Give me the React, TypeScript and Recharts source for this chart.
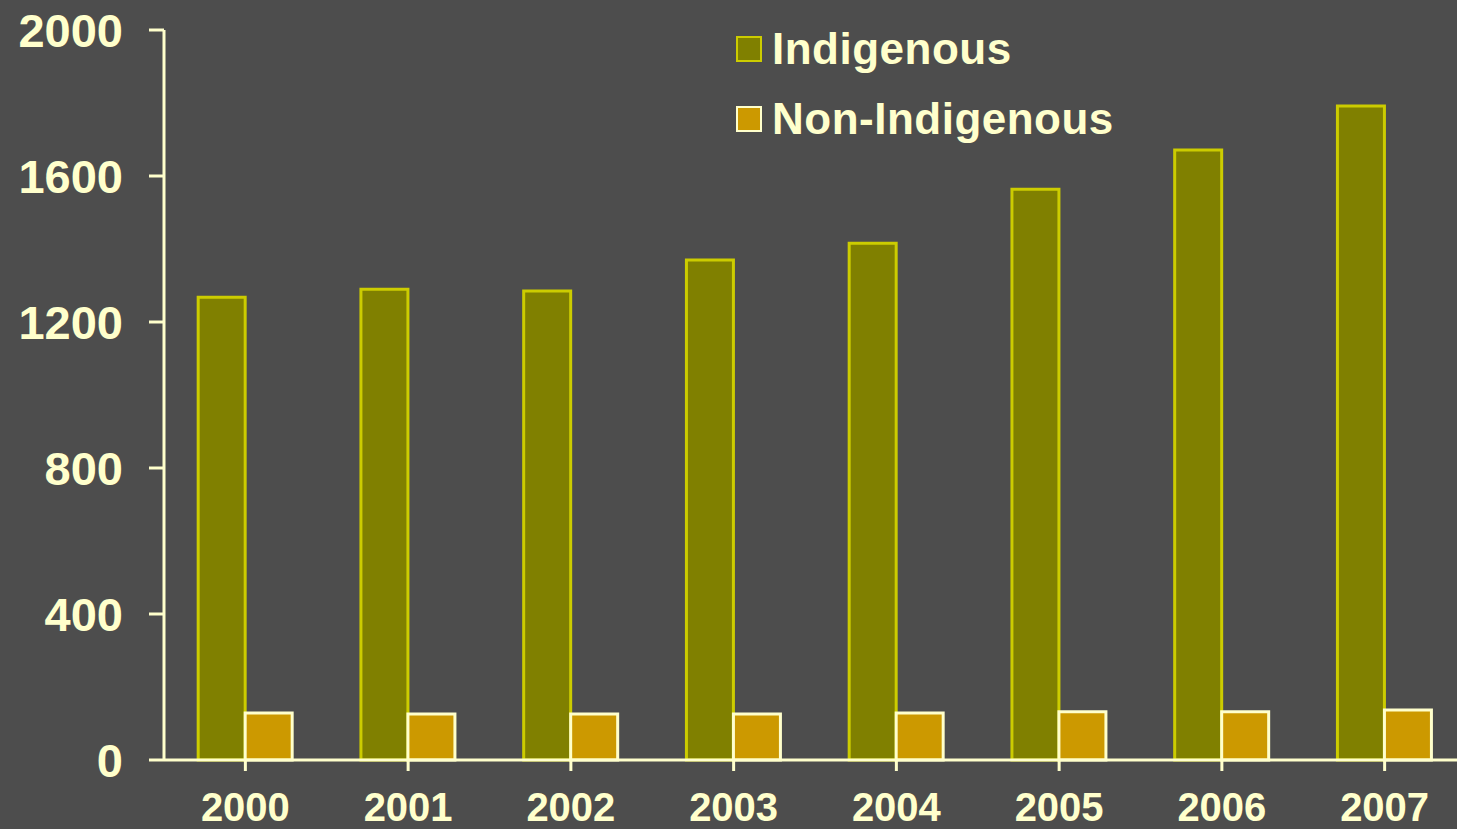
import React from 'react';
import { BarChart, Bar, XAxis, YAxis } from 'recharts';

const years = ['2000', '2001', '2002', '2003', '2004', '2005', '2006', '2007'];
const indigenous = [1268, 1290, 1285, 1370, 1416, 1564, 1671, 1792];
const nonIndigenous = [129, 126, 126, 126, 129, 132, 132, 137];
const yTicks = [0, 400, 800, 1200, 1600, 2000];

const data = years.map((year, i) => ({
  year,
  indigenous: indigenous[i],
  nonIndigenous: nonIndigenous[i],
}));

const cream = '#ffffcc';
const font = '"Liberation Sans", Arial, sans-serif';

const legendItems = [
  { label: 'Indigenous', fill: '#808000', stroke: '#cccc00' },
  { label: 'Non-Indigenous', fill: '#cc9900', stroke: cream },
];

// legend drawn as plain html so it doesn't eat plot space
const ChartLegend = () => (
  <div
    style={{
      position: 'absolute',
      left: 736,
      top: 14,
      fontFamily: font,
      fontWeight: 'bold',
      color: cream,
      fontSize: 44,
      letterSpacing: 0.5,
    }}
  >
    {legendItems.map((item) => (
      <div key={item.label} style={{ display: 'flex', alignItems: 'center', height: 70 }}>
        <div
          style={{
            width: 22,
            height: 22,
            background: item.fill,
            border: `2px solid ${item.stroke}`,
            marginRight: 10,
          }}
        />
        <span>{item.label}</span>
      </div>
    ))}
  </div>
);

export default function App() {
  return (
    <div
      style={{
        position: 'fixed',
        left: 0,
        top: 0,
        width: 1457,
        height: 829,
        overflow: 'hidden',
        background: '#4d4d4d',
      }}
    >
      <BarChart
        width={1481}
        height={829}
        data={data}
        margin={{ top: 30, right: 15, left: 14, bottom: 0 }}
        barCategoryGap="21%"
        barGap={0}
      >
        <XAxis
          dataKey="year"
          stroke={cream}
          strokeWidth={3}
          axisLine={{ stroke: cream, strokeWidth: 3 }}
          tickLine={{ stroke: cream, strokeWidth: 3 }}
          tickSize={11}
          tickMargin={22}
          height={69}
          tick={{ fill: cream, fontSize: 40, fontWeight: 'bold', fontFamily: font }}
          interval={0}
        />
        <YAxis
          domain={[0, 2000]}
          ticks={yTicks}
          width={150}
          stroke={cream}
          strokeWidth={3}
          axisLine={{ stroke: cream, strokeWidth: 3 }}
          tickLine={{ stroke: cream, strokeWidth: 3 }}
          tickSize={15}
          tickMargin={26}
          tick={{ fill: cream, fontSize: 47, fontWeight: 'bold', fontFamily: font }}
          interval={0}
        />
        <Bar
          dataKey="indigenous"
          name="Indigenous"
          fill="#808000"
          stroke="#cccc00"
          strokeWidth={3}
          isAnimationActive={false}
        />
        <Bar
          dataKey="nonIndigenous"
          name="Non-Indigenous"
          fill="#cc9900"
          stroke={cream}
          strokeWidth={3}
          isAnimationActive={false}
        />
      </BarChart>
      <ChartLegend />
    </div>
  );
}
